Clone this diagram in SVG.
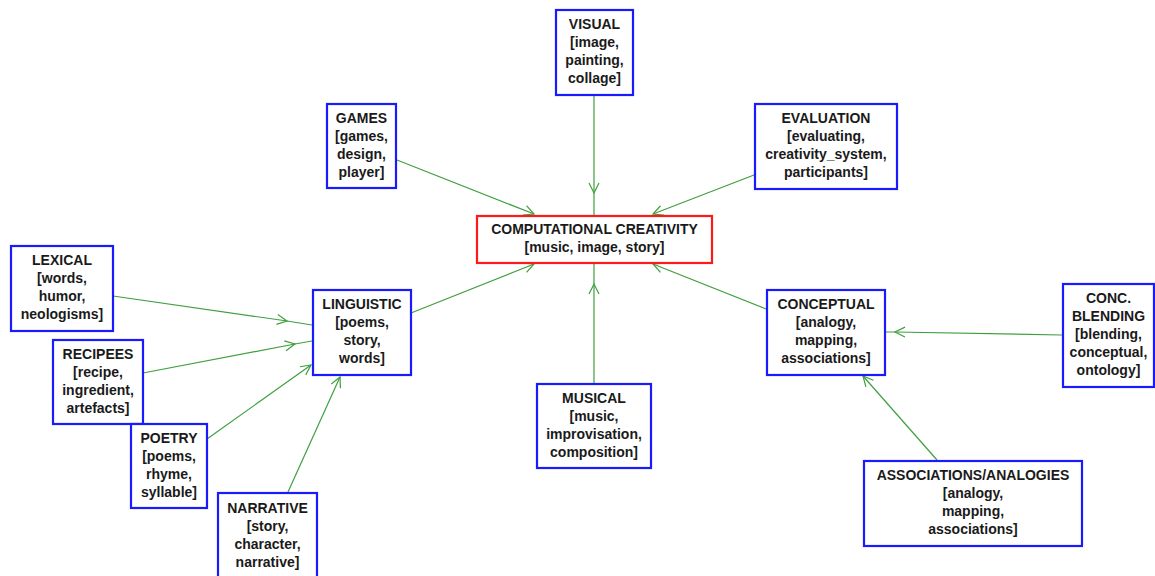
<svg xmlns="http://www.w3.org/2000/svg" width="1155" height="576" viewBox="0 0 1155 576">
<style>
.box{fill:#ffffff;stroke:#1a1aff;stroke-width:2.2}
.main{fill:#ffffff;stroke:#ff1a1a;stroke-width:2.2}
text{font-family:"Liberation Sans",Arial,sans-serif;font-size:14px;font-weight:bold;fill:#1a1a1a;text-anchor:middle}
.edge{fill:none;stroke:#3f9f3f;stroke-width:1.2}
</style>
<defs>
<marker id="arr" markerUnits="userSpaceOnUse" markerWidth="14" markerHeight="14" viewBox="-12 -7 14 14" refX="0" refY="0" orient="auto">
<path d="M-10,-5 L0,0 L-10,5" fill="none" stroke="#3f9f3f" stroke-width="1.2"/>
</marker>
</defs>
<rect width="1155" height="576" fill="#ffffff"/>
<g id="connectors">
<path class="edge" d="M397,160 L534,214" marker-end="url(#arr)"/>
<path class="edge" d="M594,95 L594,193 L594,215" marker-mid="url(#arr)"/>
<path class="edge" d="M754,175 L653,214" marker-end="url(#arr)"/>
<path class="edge" d="M411,313 L534,264" marker-end="url(#arr)"/>
<path class="edge" d="M594,383 L594,284 L594,263" marker-mid="url(#arr)"/>
<path class="edge" d="M766,309 L653,264" marker-end="url(#arr)"/>
<path class="edge" d="M113,296 L287,321 L312,325" marker-mid="url(#arr)"/>
<path class="edge" d="M143,373 L295,344 L312,341" marker-mid="url(#arr)"/>
<path class="edge" d="M207,439 L311,365" marker-end="url(#arr)"/>
<path class="edge" d="M288,492 L340,377" marker-end="url(#arr)"/>
<path class="edge" d="M1062,335 L895,332 L886,332" marker-mid="url(#arr)"/>
<path class="edge" d="M937,460 L863,376" marker-end="url(#arr)"/>
</g>
<g id="visual">
<rect class="box" x="556" y="10" width="77" height="85"/>
<text x="594.5" y="29">VISUAL</text><text x="594.5" y="47">[image,</text><text x="594.5" y="65">painting,</text><text x="594.5" y="83">collage]</text>
</g>
<g id="games">
<rect class="box" x="327" y="104" width="69" height="84"/>
<text x="361.5" y="122.5">GAMES</text><text x="361.5" y="140.5">[games,</text><text x="361.5" y="158.5">design,</text><text x="361.5" y="176.5">player]</text>
</g>
<g id="evaluation">
<rect class="box" x="755" y="104" width="142" height="85"/>
<text x="826" y="123">EVALUATION</text><text x="826" y="141">[evaluating,</text><text x="826" y="159">creativity_system,</text><text x="826" y="177">participants]</text>
</g>
<g id="computational_creativity">
<rect class="main" x="477" y="216" width="235" height="47"/>
<text x="594.5" y="234">COMPUTATIONAL CREATIVITY</text><text x="594.5" y="252">[music, image, story]</text>
</g>
<g id="lexical">
<rect class="box" x="11" y="246" width="102" height="85"/>
<text x="62" y="265">LEXICAL</text><text x="62" y="283">[words,</text><text x="62" y="301">humor,</text><text x="62" y="319">neologisms]</text>
</g>
<g id="linguistic">
<rect class="box" x="313" y="290" width="98" height="85"/>
<text x="362" y="309">LINGUISTIC</text><text x="362" y="327">[poems,</text><text x="362" y="345">story,</text><text x="362" y="363">words]</text>
</g>
<g id="conceptual">
<rect class="box" x="767" y="290" width="118" height="85"/>
<text x="826" y="309">CONCEPTUAL</text><text x="826" y="327">[analogy,</text><text x="826" y="345">mapping,</text><text x="826" y="363">associations]</text>
</g>
<g id="conc_blending">
<rect class="box" x="1063" y="284" width="91" height="103"/>
<text x="1108.5" y="303">CONC.</text><text x="1108.5" y="321">BLENDING</text><text x="1108.5" y="339">[blending,</text><text x="1108.5" y="357">conceptual,</text><text x="1108.5" y="375">ontology]</text>
</g>
<g id="recipees">
<rect class="box" x="53" y="340" width="90" height="84"/>
<text x="98" y="358.5">RECIPEES</text><text x="98" y="376.5">[recipe,</text><text x="98" y="394.5">ingredient,</text><text x="98" y="412.5">artefacts]</text>
</g>
<g id="musical">
<rect class="box" x="537" y="384" width="114" height="84"/>
<text x="594" y="402.5">MUSICAL</text><text x="594" y="420.5">[music,</text><text x="594" y="438.5">improvisation,</text><text x="594" y="456.5">composition]</text>
</g>
<g id="poetry">
<rect class="box" x="131" y="424" width="76" height="84"/>
<text x="169" y="442.5">POETRY</text><text x="169" y="460.5">[poems,</text><text x="169" y="478.5">rhyme,</text><text x="169" y="496.5">syllable]</text>
</g>
<g id="associations_analogies">
<rect class="box" x="864" y="461" width="218" height="85"/>
<text x="973" y="480">ASSOCIATIONS/ANALOGIES</text><text x="973" y="498">[analogy,</text><text x="973" y="516">mapping,</text><text x="973" y="534">associations]</text>
</g>
<g id="narrative">
<rect class="box" x="218" y="493" width="99" height="85"/>
<text x="267.5" y="513">NARRATIVE</text><text x="267.5" y="531">[story,</text><text x="267.5" y="549">character,</text><text x="267.5" y="567">narrative]</text>
</g>
</svg>
